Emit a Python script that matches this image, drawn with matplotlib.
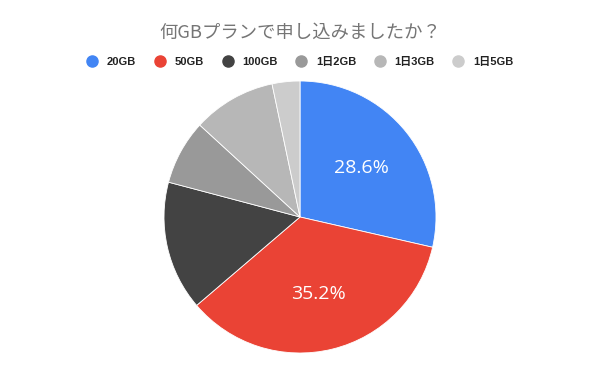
import matplotlib.pyplot as plt
from matplotlib.lines import Line2D

plt.rcParams['font.family'] = ['Noto Sans CJK JP', 'DejaVu Sans']

labels = ['20GB', '50GB', '100GB', '1日2GB', '1日3GB', '1日5GB']
counts = [26, 32, 14, 7, 9, 3]
colors = ['#4285F4', '#EA4335', '#434343', '#999999', '#B7B7B7', '#CCCCCC']
title = '何GBプランで申し込みましたか？'

fig = plt.figure(figsize=(6, 3.71), dpi=100)
ax = fig.add_axes([164 / 600, 18 / 371, 272 / 600, 272 / 371])


def pct_label(p):
    return f'{p:.1f}%' if p > 20 else ''


wedges, texts, autotexts = ax.pie(
    counts, colors=colors, startangle=90, counterclock=False,
    autopct=pct_label, pctdistance=0.58,
    wedgeprops=dict(linewidth=0.6, edgecolor='white'),
    textprops=dict(color='white', fontsize=14, family=['Open Sans', 'DejaVu Sans']))
ax.set_aspect('equal')
ax.set_xlim(-1, 1)
ax.set_ylim(-1, 1)

fig.text(0.5, 1 - 33 / 371, title, ha='center', va='center',
         fontsize=13.2, color='#757575')

handles = [Line2D([], [], marker='o', linestyle='', markersize=8,
                  markerfacecolor=c, markeredgecolor=c) for c in colors]
leg = fig.legend(handles, labels, loc='center', ncol=6,
                 bbox_to_anchor=(0.5, 1 - 62 / 371), frameon=False,
                 handletextpad=0.8, columnspacing=1.65, handlelength=1.0,
                 prop=dict(size=8, weight='bold',
                           family=['Liberation Sans', 'Noto Sans CJK JP']))
for t in leg.get_texts():
    t.set_color('#222222')

fig.savefig('out.png', dpi=100, facecolor='white')
